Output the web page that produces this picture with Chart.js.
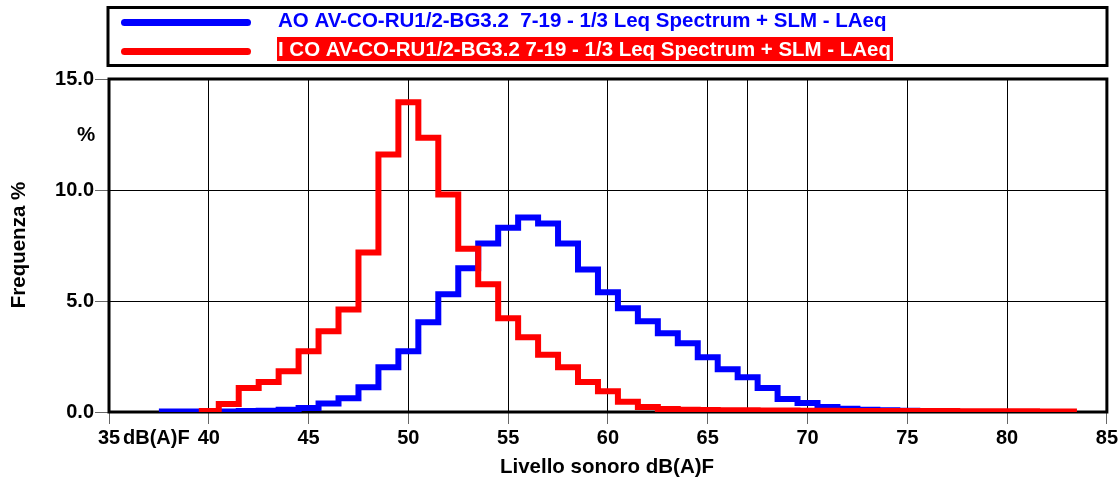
<!DOCTYPE html>
<html>
<head>
<meta charset="utf-8">
<script src="https://cdn.jsdelivr.net/npm/chart.js@4"></script>
<style>
  html, body { margin: 0; padding: 0; background: #fff; }
  #wrap { width: 1120px; height: 479px; }
</style>
</head>
<body>
<div id="wrap"><canvas id="chart" width="1120" height="479"></canvas></div>
<script>
// bins are 1 dB wide, centred on whole dB values
const blueFirstBin = 38;
const blueValues = [0.02, 0.02, 0.02, 0.02, 0.04, 0.06, 0.1, 0.18, 0.38, 0.62,
    1.12, 2.02, 2.74, 4.04, 5.3, 6.47, 7.59, 8.3, 8.76, 8.49,
    7.59, 6.42, 5.39, 4.67, 4.09, 3.55, 3.1, 2.47, 1.93, 1.57,
    1.08, 0.58, 0.4, 0.22, 0.15, 0.1, 0.08, 0.06, 0.04, 0.03];

const redFirstBin = 40;
const redValues = [0.05, 0.36, 1.08, 1.35, 1.84, 2.74, 3.64, 4.62, 7.18, 11.6,
    13.95, 12.35, 9.8, 7.35, 5.75, 4.22, 3.37, 2.58, 2.02, 1.35,
    0.94, 0.46, 0.22, 0.13, 0.1, 0.09, 0.08, 0.08, 0.07, 0.07,
    0.06, 0.06, 0.05, 0.05, 0.05, 0.04, 0.04, 0.04, 0.03, 0.03,
    0.03, 0.03, 0.02, 0.02];

const xTicks = [35, 40, 45, 50, 55, 60, 65, 67, 70, 75, 80, 85];
const yTicks = [0, 5, 10, 15];

const blueLabel = 'AO AV-CO-RU1/2-BG3.2  7-19 - 1/3 Leq Spectrum + SLM - LAeq';
const redLabel = 'I CO AV-CO-RU1/2-BG3.2 7-19 - 1/3 Leq Spectrum + SLM - LAeq';
const xTitle = 'Livello sonoro dB(A)F';
const yTitle = 'Frequenza %';

const FAMILY = "'Liberation Sans', Arial, sans-serif";
const TICK_FONT = "bold 20px " + FAMILY;
const TEXT_FONT = "bold 20.5px " + FAMILY;

function toSteps(firstBin, values) {
    const pts = values.map((v, i) => ({ x: firstBin + i - 0.5, y: v }));
    pts.push({ x: firstBin + values.length - 0.5, y: values[values.length - 1] });
    return pts;
}

const frameAndText = {
    id: 'frameAndText',
    beforeDatasetsDraw(chart) {
        const { ctx, chartArea: a } = chart;
        ctx.save();
        ctx.strokeStyle = '#000';
        ctx.lineWidth = 3;
        ctx.strokeRect(a.left, a.top, a.right - a.left, a.bottom - a.top);
        ctx.restore();
    },
    afterDraw(chart) {
        const { ctx } = chart;
        const xs = chart.scales.x;
        ctx.save();
        ctx.fillStyle = '#000';
        ctx.textBaseline = 'middle';

        // unit after the first tick label
        ctx.font = TICK_FONT;
        ctx.textAlign = 'left';
        ctx.fillText('dB(A)F', xs.getPixelForValue(35) + 14, 438);

        ctx.font = TEXT_FONT;
        ctx.textAlign = 'center';
        ctx.fillText('%', 86, 135);
        ctx.fillText(xTitle, 607, 467);

        ctx.save();
        ctx.translate(19, 245);
        ctx.rotate(-Math.PI / 2);
        ctx.fillText(yTitle, 0, 0);
        ctx.restore();

        // legend box
        ctx.lineWidth = 3;
        ctx.strokeStyle = '#000';
        ctx.strokeRect(108, 7.5, 999, 58);

        ctx.lineCap = 'round';
        ctx.lineWidth = 7;
        ctx.strokeStyle = '#0000ff';
        ctx.beginPath(); ctx.moveTo(124.5, 22.5); ctx.lineTo(247.5, 22.5); ctx.stroke();
        ctx.strokeStyle = '#ff0000';
        ctx.beginPath(); ctx.moveTo(124.5, 51.5); ctx.lineTo(247.5, 51.5); ctx.stroke();

        ctx.textAlign = 'left';
        ctx.fillStyle = '#ff0000';
        ctx.fillRect(277, 37, 616, 24);
        ctx.fillStyle = '#0000ff';
        ctx.fillText(blueLabel, 278, 21, 609);
        ctx.fillStyle = '#ffffff';
        ctx.fillText(redLabel, 278, 50, 613);
        ctx.restore();
    }
};

new Chart(document.getElementById('chart'), {
    type: 'line',
    data: {
        datasets: [{
            data: toSteps(blueFirstBin, blueValues),
            borderColor: '#0000ff',
            order: 2
        }, {
            data: toSteps(redFirstBin, redValues),
            borderColor: '#ff0000',
            order: 1
        }]
    },
    options: {
        responsive: false,
        animation: false,
        layout: { padding: { top: 79, right: 12, left: 0, bottom: 0 } },
        elements: {
            line: { borderWidth: 6, stepped: 'before', borderJoinStyle: 'miter', borderCapStyle: 'butt', tension: 0 },
            point: { radius: 0 }
        },
        datasets: { line: { clip: 0 } },
        plugins: { legend: { display: false }, tooltip: { enabled: false } },
        scales: {
            x: {
                type: 'linear',
                min: 35,
                max: 85,
                afterFit: s => { s.height = 67; },
                afterBuildTicks: s => { s.ticks = xTicks.map(v => ({ value: v })); },
                grid: {
                    color: '#000',
                    lineWidth: 1,
                    tickLength: 12,
                    tickColor: c => c.tick && c.tick.value === 67 ? 'rgba(0,0,0,0)' : '#666'
                },
                border: { display: false },
                ticks: {
                    autoSkip: false,
                    maxRotation: 0,
                    padding: 2,
                    color: '#000',
                    font: { family: FAMILY, size: 20, weight: 'bold' },
                    callback: v => v === 67 ? '' : String(v)
                }
            },
            y: {
                min: 0,
                max: 15,
                afterFit: s => { s.width = 109; },
                afterBuildTicks: s => { s.ticks = yTicks.map(v => ({ value: v })); },
                grid: { color: '#000', lineWidth: 1, tickLength: 14, tickColor: '#666' },
                border: { display: false },
                ticks: {
                    padding: 1,
                    color: '#000',
                    font: { family: FAMILY, size: 20, weight: 'bold' },
                    callback: v => v.toFixed(1)
                }
            }
        }
    },
    plugins: [frameAndText]
});
</script>
</body>
</html>
